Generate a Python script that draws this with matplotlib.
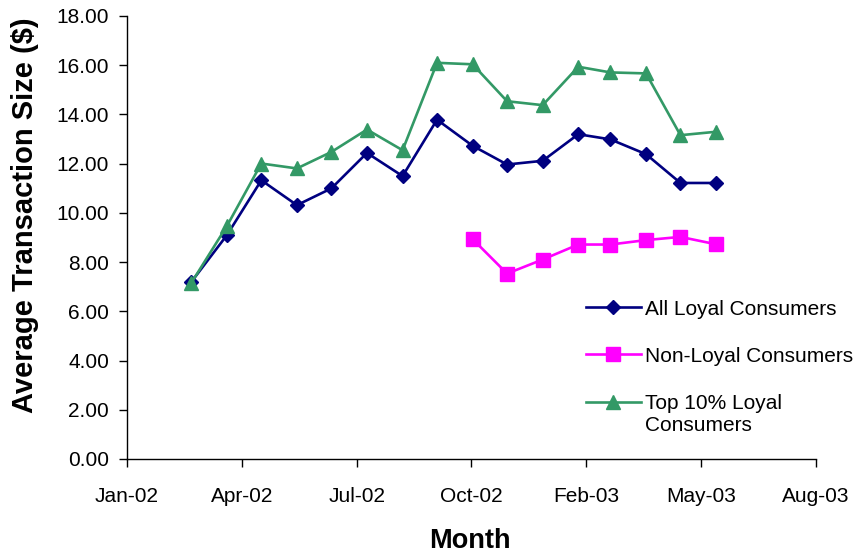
import matplotlib
matplotlib.use("Agg")
import matplotlib.pyplot as plt
import matplotlib.dates as mdates
import numpy as np
import pandas as pd

plt.rcParams['font.family'] = ['Liberation Sans', 'DejaVu Sans']

# month-end dates, Feb 2002 .. May 2003
months = pd.date_range("2002-02-28", "2003-05-31", freq="ME")

all_loyal = [7.19, 9.09, 11.32, 10.31, 10.99, 12.43, 11.49, 13.78,
             12.72, 11.96, 12.11, 13.19, 12.98, 12.38, 11.21, 11.21]
# non-loyal series only starts in Oct 2002
non_loyal = [None] * 8 + [8.93, 7.53, 8.10, 8.71, 8.71, 8.89, 9.02, 8.72]
top10_loyal = [7.15, 9.46, 12.00, 11.80, 12.47, 13.38, 12.54, 16.09,
               16.03, 14.53, 14.37, 15.93, 15.70, 15.66, 13.15, 13.29]

series_labels = ["All Loyal Consumers", "Non-Loyal Consumers",
                 "Top 10% Loyal\nConsumers"]

# axis ticks every 100 days
tick_dates = pd.date_range("2002-01-03", periods=7, freq="100D")

fig = plt.figure(figsize=(8.58, 5.54), dpi=100)
ax = fig.add_axes([0.148, 0.1715, 0.803, 0.8])

ax.plot(months, all_loyal, color="#000080", lw=1.9, marker="D", ms=7.2,
        label=series_labels[0])
nl_idx = [i for i, v in enumerate(non_loyal) if v is not None]
ax.plot(months[nl_idx], [non_loyal[i] for i in nl_idx], color="#FF00FF",
        lw=1.9, marker="s", ms=10.5, label=series_labels[1])
ax.plot(months, top10_loyal, color="#339966", lw=1.9, marker="^", ms=10.5,
        label=series_labels[2])

ax.set_xlim(tick_dates[0], tick_dates[-1])
ax.set_xticks(tick_dates)
ax.xaxis.set_major_formatter(mdates.DateFormatter("%b-%y"))
ax.set_ylim(0, 18)
ax.set_yticks(range(0, 19, 2))
ax.yaxis.set_major_formatter(plt.FuncFormatter(lambda v, p: f"{v:.2f}"))

for side in ("top", "right"):
    ax.spines[side].set_visible(False)
for side in ("left", "bottom"):
    ax.spines[side].set_linewidth(1.0)
ax.tick_params(axis="both", labelsize=15, length=6, width=1.0, color="black")
ax.tick_params(axis="x", pad=14)
ax.tick_params(axis="y", pad=7)

ax.set_ylabel("Average Transaction Size ($)", fontsize=21, fontweight="bold")
ax.yaxis.set_label_coords(-0.128, 0.55)
ax.set_xlabel("Month", fontsize=19.5, fontweight="bold")
ax.xaxis.set_label_coords(0.498, -0.155)

leg = ax.legend(loc="upper left", bbox_to_anchor=(0.661, 0.493),
                bbox_transform=fig.transFigure, frameon=False, fontsize=15,
                handlelength=2.64, handletextpad=0.2, labelspacing=1.35)
# put the two-line entry's symbol level with its first text line
h = leg.legend_handles[2]
h.set_ydata(np.asarray(h.get_ydata()) + 9)

fig.savefig("out.png", dpi=100)
